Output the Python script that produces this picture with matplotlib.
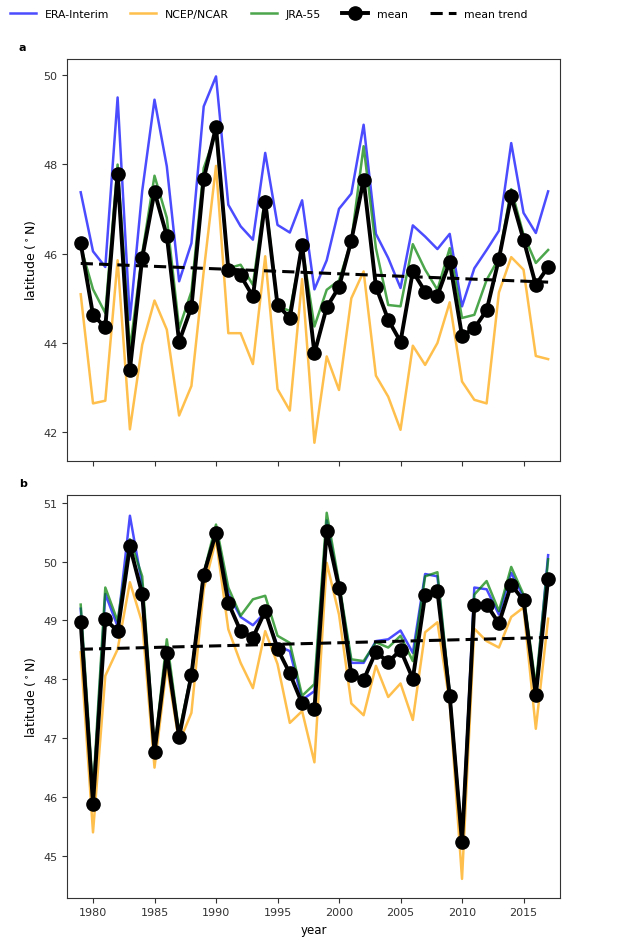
import numpy as np
from matplotlib import pyplot as plt

years = np.arange(1979, 2018)

# panel a
era_a = [47.37, 46.05, 45.70, 49.49, 44.52, 47.40, 49.44, 47.95, 45.38, 46.23,
         49.29, 49.96, 47.09, 46.61, 46.31, 48.25, 46.64, 46.47, 47.19, 45.20,
         45.85, 47.00, 47.34, 48.88, 46.44, 45.90, 45.23, 46.63, 46.38, 46.10,
         46.44, 44.82, 45.67, 46.08, 46.51, 48.47, 46.91, 46.46, 47.39]
ncep_a = [45.09, 42.65, 42.71, 45.85, 42.07, 43.96, 44.95, 44.30, 42.38, 43.04,
          45.60, 47.96, 44.22, 44.22, 43.53, 45.94, 42.97, 42.49, 45.43, 41.77,
          43.70, 42.95, 45.00, 45.60, 43.27, 42.80, 42.06, 43.94, 43.51, 44.00,
          44.91, 43.14, 42.73, 42.65, 45.13, 45.92, 45.64, 43.71, 43.64]
jra_a = [46.16, 45.20, 44.67, 47.99, 43.85, 46.00, 47.74, 46.80, 44.33, 45.15,
         47.91, 48.70, 45.67, 45.75, 45.30, 47.28, 44.82, 44.72, 46.16, 44.37,
         45.19, 45.40, 46.28, 48.40, 46.12, 44.85, 44.82, 46.21, 45.64, 45.19,
         46.12, 44.56, 44.63, 45.41, 45.90, 47.44, 46.42, 45.79, 46.08]
mean_a = [46.23, 44.63, 44.35, 47.78, 43.40, 45.90, 47.38, 46.40, 44.03, 44.80,
          47.67, 48.83, 45.64, 45.51, 45.04, 47.16, 44.85, 44.56, 46.20, 43.77,
          44.80, 45.25, 46.29, 47.65, 45.26, 44.52, 44.03, 45.60, 45.15, 45.06,
          45.82, 44.16, 44.33, 44.73, 45.88, 47.28, 46.31, 45.30, 45.70]

# panel b
era_b = [49.20, 46.00, 49.45, 48.90, 50.78, 49.60, 46.78, 48.55, 47.05, 48.10,
         49.80, 50.55, 49.45, 49.06, 48.92, 49.14, 48.57, 48.48, 47.65, 47.80,
         50.70, 49.60, 48.28, 48.28, 48.65, 48.68, 48.83, 48.45, 49.79, 49.75,
         47.75, 45.25, 49.56, 49.53, 49.10, 49.81, 49.40, 47.80, 50.11]
ncep_b = [48.46, 45.40, 48.06, 48.51, 49.65, 48.96, 46.50, 48.23, 46.93, 47.43,
          49.53, 50.38, 48.85, 48.28, 47.85, 48.82, 48.26, 47.26, 47.46, 46.59,
          49.98, 49.10, 47.59, 47.39, 48.23, 47.70, 47.93, 47.31, 48.80, 48.97,
          47.60, 44.61, 48.86, 48.65, 48.54, 49.06, 49.22, 47.16, 49.03]
jra_b = [49.27, 46.10, 49.56, 48.99, 50.38, 49.75, 46.81, 48.68, 47.10, 48.11,
         49.81, 50.63, 49.56, 49.08, 49.36, 49.42, 48.74, 48.62, 47.72, 47.92,
         50.83, 49.64, 48.34, 48.31, 48.63, 48.54, 48.74, 48.31, 49.75, 49.82,
         47.77, 45.28, 49.44, 49.67, 49.16, 49.91, 49.44, 47.89, 50.04]
mean_b = [48.97, 45.89, 49.02, 48.82, 50.26, 49.45, 46.76, 48.44, 47.02, 48.07,
          49.78, 50.49, 49.30, 48.82, 48.71, 49.16, 48.52, 48.10, 47.59, 47.49,
          50.52, 49.56, 48.07, 47.99, 48.47, 48.29, 48.50, 48.01, 49.43, 49.50,
          47.72, 45.23, 49.27, 49.27, 48.95, 49.61, 49.34, 47.73, 49.71]

plt.rcParams['font.size'] = 8
plt.rcParams['axes.edgecolor'] = '0.2'
plt.rcParams['xtick.color'] = '0.2'
plt.rcParams['ytick.color'] = '0.2'

fig = plt.figure(figsize=(6.22, 9.45), dpi=100)
ax_a = fig.add_axes([0.108, 0.511, 0.793, 0.426])
ax_b = fig.add_axes([0.108, 0.049, 0.793, 0.426])


def draw(ax, era, ncep, jra, mean):
    ax.plot(years, era, color='blue', alpha=0.7, lw=1.8, label='ERA-Interim')
    ax.plot(years, ncep, color='orange', alpha=0.7, lw=1.8, label='NCEP/NCAR')
    ax.plot(years, jra, color='green', alpha=0.7, lw=1.8, label='JRA-55')
    ax.plot(years, mean, color='black', lw=2.8, marker='o', ms=9.5, label='mean')
    k, b = np.polyfit(years, mean, 1)
    ax.plot(years, k * years + b, color='black', lw=2.2, ls=(0, (4, 2)),
            label='mean trend')
    ax.set_xlim(1977.9, 2018)
    ax.set_ylabel('latitude ($^\\circ$N)', fontsize=9)
    ax.set_xticks([1980, 1985, 1990, 1995, 2000, 2005, 2010, 2015])


draw(ax_a, era_a, ncep_a, jra_a, mean_a)
draw(ax_b, era_b, ncep_b, jra_b, mean_b)

ax_a.set_ylim(41.36, 50.36)
ax_a.set_yticks([42, 44, 46, 48, 50])
ax_a.set_xticklabels([])
ax_b.set_ylim(44.29, 51.13)
ax_b.set_xlabel('year', fontsize=8.5)

fig.text(0.03, 0.946, 'a', fontweight='bold', fontsize=8)
fig.text(0.03, 0.485, 'b', fontweight='bold', fontsize=8)

handles, labels = ax_a.get_legend_handles_labels()
fig.legend(handles, labels, loc='upper left', bbox_to_anchor=(0.0, 1.0),
           ncol=5, frameon=False, handlelength=2.4, columnspacing=2.0,
           fontsize=7.8)

fig.savefig('out.png', dpi=100)
